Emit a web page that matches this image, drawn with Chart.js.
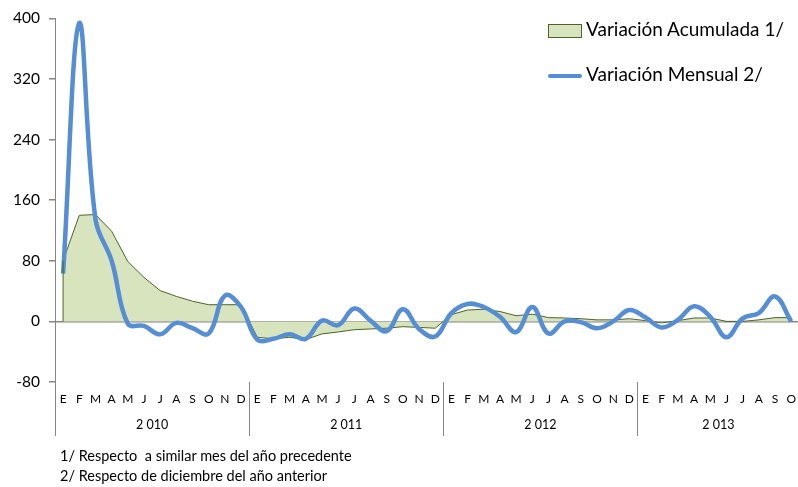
<!DOCTYPE html>
<html>
<head>
<meta charset="utf-8">
<script src="https://cdn.jsdelivr.net/npm/chart.js@4.4.1/dist/chart.umd.min.js"></script>
<style>
  body { margin: 0; overflow: hidden; background: #fff; font-family: Lato, "Open Sans", sans-serif; }
  #wrap { position: absolute; left: 0; top: 0; width: 806px; height: 487px; }
  .leg { position: absolute; left: 548px; height: 22px; font-size: 19px; line-height: 22px; color: #000; white-space: nowrap; }
  .leg span.sw { display: inline-block; width: 34px; margin-right: 4px; vertical-align: middle; box-sizing: border-box; }
  .note { position: absolute; left: 60px; font-size: 14.5px; line-height: 20px; color: #000; white-space: nowrap; }
</style>
</head>
<body>
<div id="wrap"><canvas id="chart" width="806" height="487"></canvas></div>
<div id="legend"></div>
<div class="note" style="top:446px">1/ Respecto &nbsp;a similar mes del año precedente</div>
<div class="note" style="top:466px">2/ Respecto de diciembre del año anterior</div>
<script>
const months = ["E","F","M","A","M","J","J","A","S","O","N","D"];
const years = ["2 010", "2 011", "2 012", "2 013"];
const monthsPerYear = [12, 12, 12, 10];
const yTicks = [-80, 0, 80, 160, 240, 320, 400];

// Variación Acumulada 1/
const acumulada = [
  80, 140, 141, 119, 79, 58, 40.6, 33, 26.6, 22, 22, 22,
  -21, -23, -21, -24, -16.5, -14, -11, -10, -9, -7, -8, -9,
  9, 15, 16, 13, 7.5, 9.5, 5, 4.5, 3.5, 2, 2, 3.5,
  1, -2, 1, 4.5, 4.5, 0, 0, 2, 5, 5
];
// Variación Mensual 2/
const mensual = [
  63, 394, 135, 80, -3, -6, -17, -2, -9, -16, 34, 19,
  -24, -23, -17, -23, 1, -5, 17, 1, -13, 16, -10, -20,
  11, 23, 19, 6, -14, 19, -16, 0, -1, -9, 0, 15,
  5, -8, 2, 20, 6, -21, 4, 11, 33, 0
];

const labels = [];
monthsPerYear.forEach(function(n){ months.slice(0, n).forEach(function(m){ labels.push(m); }); });

const FONT = 'Lato, "Open Sans", sans-serif';
const AXIS_GRAY = '#868686';

// year labels, separators under the month row, left edge of the area
const yearAxis = {
  id: 'yearAxis',
  afterDraw: function(chart) {
    const ctx = chart.ctx, area = chart.chartArea, x = chart.scales.x, y = chart.scales.y;
    const half = (x.getPixelForValue(1) - x.getPixelForValue(0)) / 2;
    const top = area.bottom, bottom = area.bottom + 54;
    ctx.save();
    ctx.strokeStyle = AXIS_GRAY;
    ctx.lineWidth = 1;
    ctx.fillStyle = '#000';
    ctx.font = '12.5px ' + FONT;
    ctx.textAlign = 'center';
    ctx.textBaseline = 'middle';
    let start = 0;
    years.forEach(function(yr, i) {
      const n = monthsPerYear[i];
      const left = i === 0 ? area.left : x.getPixelForValue(start) - half;
      const right = x.getPixelForValue(start + n - 1) + half;
      const lx = Math.round(left) + 0.5;
      ctx.beginPath();
      ctx.moveTo(lx, top);
      ctx.lineTo(lx, bottom);
      ctx.stroke();
      ctx.fillText(yr, (left + right) / 2, area.bottom + 43);
      start += n;
    });
    // vertical edge of the area at its first point
    const x0 = x.getPixelForValue(0);
    ctx.strokeStyle = '#4f6228';
    ctx.beginPath();
    ctx.moveTo(x0, y.getPixelForValue(0));
    ctx.lineTo(x0, y.getPixelForValue(acumulada[0]));
    ctx.stroke();
    ctx.restore();
  }
};

const chart = new Chart(document.getElementById('chart').getContext('2d'), {
  type: 'line',
  data: {
    labels: labels,
    datasets: [
      {
        label: 'Variación Mensual 2/',
        data: mensual,
        borderColor: '#558ed5',
        borderWidth: 4.5,
        pointRadius: 0,
        tension: 0.4,
        fill: false,
        order: 0
      },
      {
        label: 'Variación Acumulada 1/',
        data: acumulada,
        borderColor: '#4f6228',
        backgroundColor: '#d7e4bd',
        borderWidth: 1,
        pointRadius: 0,
        tension: 0,
        fill: 'origin',
        order: 1
      }
    ]
  },
  options: {
    responsive: false,
    animation: false,
    layout: { padding: { top: 15, right: 0, bottom: 0, left: 0 } },
    plugins: { legend: { display: false }, tooltip: { enabled: false } },
    scales: {
      x: {
        offset: true,
        grid: { display: false, drawTicks: false },
        border: { display: false },
        ticks: {
          autoSkip: false, maxRotation: 0, padding: 10, color: '#000',
          font: { size: 12, family: FONT },
          callback: function(v, i) { return labels[i]; }
        },
        afterFit: function(s) { s.height = 105; }
      },
      y: {
        min: -80, max: 400,
        afterBuildTicks: function(s) { s.ticks = yTicks.map(function(v){ return { value: v }; }); },
        ticks: { color: '#000', padding: 9, font: { size: 15.5, family: FONT } },
        grid: {
          color: function(c) { return c.tick && c.tick.value === 0 ? AXIS_GRAY : 'rgba(0,0,0,0)'; },
          tickColor: AXIS_GRAY, tickLength: 6, lineWidth: 1.5
        },
        border: { color: AXIS_GRAY, width: 1 },
        afterFit: function(s) { s.width = 55; }
      }
    }
  },
  plugins: [yearAxis]
});

// legend, stacked at the top right
const leg = document.getElementById('legend');
[chart.data.datasets[1], chart.data.datasets[0]].forEach(function(ds, i) {
  const row = document.createElement('div');
  row.className = 'leg';
  row.style.top = (i === 0 ? 18 : 63) + 'px';
  const sw = document.createElement('span');
  sw.className = 'sw';
  if (ds.fill) {
    sw.style.height = '14px';
    sw.style.background = ds.backgroundColor;
    sw.style.border = '1px solid ' + ds.borderColor;
  } else {
    sw.style.height = '4px';
    sw.style.borderRadius = '2px';
    sw.style.background = ds.borderColor;
  }
  row.appendChild(sw);
  row.appendChild(document.createTextNode(ds.label));
  leg.appendChild(row);
});
</script>
</body>
</html>
